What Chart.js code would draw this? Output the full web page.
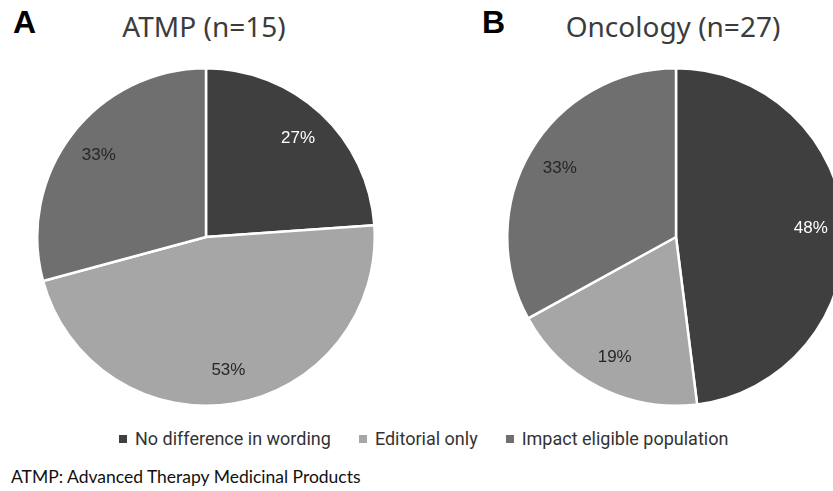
<!DOCTYPE html>
<html>
<head>
<meta charset="utf-8">
<script src="https://cdn.jsdelivr.net/npm/chart.js@4"></script>
<style>
    html, body { margin: 0; padding: 0; background: #fff; }
    body { width: 833px; height: 491px; position: relative; overflow: hidden; }
    .pie { position: absolute; top: 67px; width: 340px; height: 340px; }
    .titulo { position: absolute; top: 7px; font-family: "Noto Sans", sans-serif; font-size: 28px; color: #3c3c3c; white-space: nowrap; transform: translateX(-50%); }
    .letra { position: absolute; top: 4px; font-family: "Liberation Sans", Arial, sans-serif; font-weight: bold; font-size: 32px; color: #000; }
    .leyenda { position: absolute; top: 428px; left: 119px; display: flex; gap: 28px; font-family: "Roboto", sans-serif; font-size: 18px; color: #333; }
    .leyenda span.item { display: flex; align-items: center; white-space: nowrap; }
    .leyenda i { display: inline-block; width: 8px; height: 8px; margin-right: 8px; }
    .nota { position: absolute; left: 11px; top: 466px; font-family: "Lato", "Open Sans", sans-serif; font-size: 17.5px; color: #111; white-space: nowrap; }
</style>
</head>
<body>
<div class="letra" style="left: 13px;">A</div>
<div class="titulo" style="left: 204px;">ATMP (n=15)</div>
<div class="letra" style="left: 482px;">B</div>
<div class="titulo" style="left: 673px;">Oncology (n=27)</div>

<div class="pie" style="left: 36px;"><canvas id="pieA"></canvas></div>
<div class="pie" style="left: 506px;"><canvas id="pieB"></canvas></div>

<div class="leyenda" id="leyenda"></div>
<div class="nota">ATMP: Advanced Therapy Medicinal Products</div>

<script>
const categorias = ['No difference in wording', 'Editorial only', 'Impact eligible population'];
const valoresATMP = [27, 53, 33];      // % tal como aparecen en la figura
const valoresOncologia = [48, 19, 33];
const coloresSector = ['#3f3f3f', '#a6a6a6', '#6f6f6f'];
const coloresTexto = ['#ffffff', '#262626', '#262626'];

// etiquetas de porcentaje dentro de cada sector
const etiquetasPlugin = {
    id: 'etiquetas',
    afterDatasetsDraw(chart) {
        const ctx = chart.ctx;
        const meta = chart.getDatasetMeta(0);
        const datos = chart.data.datasets[0].data;
        ctx.save();
        ctx.font = '17px "Liberation Sans", Arial, sans-serif';
        ctx.textAlign = 'center';
        ctx.textBaseline = 'middle';
        meta.data.forEach(function(arco, i) {
            const p = arco.getProps(['x', 'y', 'startAngle', 'endAngle', 'outerRadius']);
            const medio = (p.startAngle + p.endAngle) / 2;
            const r = p.outerRadius * 0.8;
            ctx.fillStyle = coloresTexto[i];
            ctx.fillText(datos[i] + '%', p.x + Math.cos(medio) * r, p.y + Math.sin(medio) * r);
        });
        ctx.restore();
    }
};

function dibujarPie(id, valores) {
    return new Chart(document.getElementById(id), {
        type: 'pie',
        data: {
            labels: categorias,
            datasets: [{
                data: valores,
                backgroundColor: coloresSector,
                borderColor: '#ffffff',
                borderWidth: 2.5
            }]
        },
        options: {
            responsive: true,
            maintainAspectRatio: false,
            animation: false,
            layout: { padding: 0 },
            plugins: {
                legend: { display: false },
                tooltip: { enabled: false }
            }
        },
        plugins: [etiquetasPlugin]
    });
}

dibujarPie('pieA', valoresATMP);
dibujarPie('pieB', valoresOncologia);

// leyenda compartida
const leyenda = document.getElementById('leyenda');
categorias.forEach(function(cat, i) {
    const item = document.createElement('span');
    item.className = 'item';
    const cuadro = document.createElement('i');
    cuadro.style.background = coloresSector[i];
    item.appendChild(cuadro);
    item.appendChild(document.createTextNode(cat));
    leyenda.appendChild(item);
});
</script>
</body>
</html>
